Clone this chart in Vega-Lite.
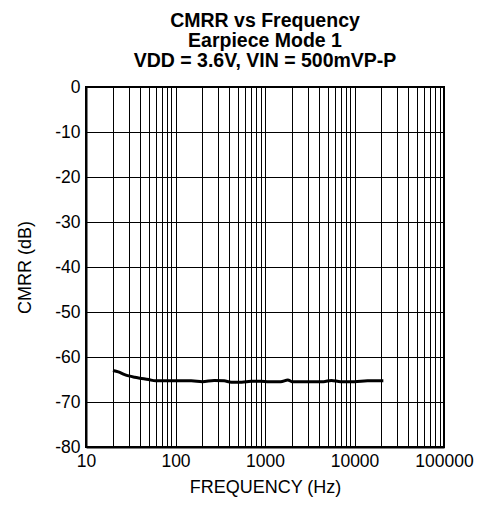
{
  "$schema": "https://vega.github.io/schema/vega-lite/v6.json",
  "autosize": {"type": "none"},
  "width": 358,
  "height": 360,
  "padding": {"left": 86, "top": 87, "right": 33, "bottom": 59},
  "background": "white",
  "config": {
    "font": "Liberation Sans",
    "view": {"stroke": "black", "strokeWidth": 2},
    "axis": {"gridColor": "black", "gridOpacity": 1, "gridWidth": 1, "domainColor": "black", "domainWidth": 2, "ticks": false, "labelFontSize": 17.5, "labelColor": "black", "titleFontSize": 18, "titleFontWeight": "normal", "titleColor": "black", "labelFont": "Liberation Sans", "titleFont": "Liberation Sans"}
  },
  "title": {
    "text": ["CMRR vs Frequency", "Earpiece Mode 1", "VDD = 3.6V, VIN = 500mVP-P"],
    "fontSize": 19.5,
    "fontWeight": "bold",
    "font": "Liberation Sans",
    "lineHeight": 20,
    "anchor": "middle",
    "offset": 7,
    "color": "black"
  },
  "data": {
    "values": [
      {"f": 20, "cmrr": -63.0},
      {"f": 23, "cmrr": -63.3},
      {"f": 27, "cmrr": -63.9},
      {"f": 30, "cmrr": -64.2},
      {"f": 35, "cmrr": -64.5},
      {"f": 40, "cmrr": -64.7},
      {"f": 50, "cmrr": -65.0},
      {"f": 60, "cmrr": -65.3},
      {"f": 80, "cmrr": -65.3},
      {"f": 100, "cmrr": -65.3},
      {"f": 150, "cmrr": -65.3},
      {"f": 200, "cmrr": -65.5},
      {"f": 270, "cmrr": -65.2},
      {"f": 350, "cmrr": -65.3},
      {"f": 420, "cmrr": -65.6},
      {"f": 550, "cmrr": -65.6},
      {"f": 700, "cmrr": -65.4},
      {"f": 900, "cmrr": -65.4},
      {"f": 1100, "cmrr": -65.5},
      {"f": 1500, "cmrr": -65.5},
      {"f": 1800, "cmrr": -65.1},
      {"f": 2000, "cmrr": -65.5},
      {"f": 3000, "cmrr": -65.5},
      {"f": 4500, "cmrr": -65.5},
      {"f": 5500, "cmrr": -65.2},
      {"f": 7000, "cmrr": -65.5},
      {"f": 10000, "cmrr": -65.5},
      {"f": 14000, "cmrr": -65.3},
      {"f": 21000, "cmrr": -65.3}
    ]
  },
  "mark": {"type": "line", "color": "black", "strokeWidth": 3, "interpolate": "monotone"},
  "encoding": {
    "x": {
      "field": "f", "type": "quantitative",
      "scale": {"type": "log", "domain": [10, 100000]},
      "axis": {
        "title": "FREQUENCY (Hz)",
        "titlePadding": 9,
        "labelPadding": 5,
        "values": [10,20,30,40,50,60,70,80,90,100,200,300,400,500,600,700,800,900,1000,2000,3000,4000,5000,6000,7000,8000,9000,10000,20000,30000,40000,50000,60000,70000,80000,90000,100000],
        "labelExpr": "indexof(['10','100','1000','10000','100000'], datum.value + '') >= 0 ? datum.value + '' : ''",
        "labelOverlap": false,
        "labelFlush": false
      }
    },
    "y": {
      "field": "cmrr", "type": "quantitative",
      "scale": {"domain": [-80, 0]},
      "axis": {"title": "CMRR (dB)", "values": [-80,-70,-60,-50,-40,-30,-20,-10,0], "labelExpr": "datum.value + ''", "labelPadding": 6, "titlePadding": 20}
    }
  }
}
